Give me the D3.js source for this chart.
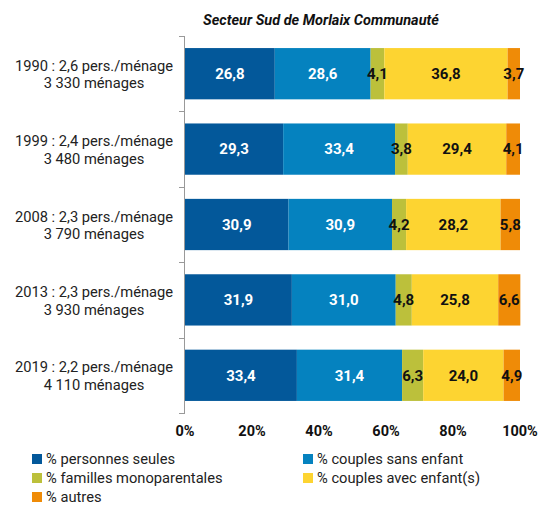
<!DOCTYPE html>
<html>
<head>
<meta charset="utf-8">
<script src="https://cdn.jsdelivr.net/npm/d3@7"></script>
<style>
  body { margin: 0; background: #fff; }
  svg { font-family: Roboto, sans-serif; }
</style>
</head>
<body>
<svg id="chart" width="538" height="505"></svg>
<script>
const years = ["1990", "1999", "2008", "2013", "2019"];
const persParMenage = ["2,6", "2,4", "2,3", "2,3", "2,2"];
const menages = ["3 330", "3 480", "3 790", "3 930", "4 110"];

const seriesNames = ["% personnes seules", "% couples sans enfant", "% familles monoparentales",
  "% couples avec enfant(s)", "% autres"];
const personnesSeules = [26.8, 29.3, 30.9, 31.9, 33.4];
const couplesSansEnfant = [28.6, 33.4, 30.9, 31.0, 31.4];
const famillesMono = [4.1, 3.8, 4.2, 4.8, 6.3];
const couplesAvecEnfants = [36.8, 29.4, 28.2, 25.8, 24.0];
const autres = [3.7, 4.1, 5.8, 6.6, 4.9];
const xTicks = [0, 20, 40, 60, 80, 100];

const colors = ["#03589a", "#0582bf", "#bcc03b", "#fdd431", "#ef8b07"];
const labelColors = ["#fff", "#fff", "#111", "#111", "#111"];

const svg = d3.select("#chart");
const margin = {left: 185, right: 18, top: 36, bottom: 92};
const width = 538, height = 505;

const seriesValues = [personnesSeules, couplesSansEnfant, famillesMono, couplesAvecEnfants, autres];
const rows = years.map((y, i) => {
  const r = {year: y};
  seriesNames.forEach((s, j) => r[s] = seriesValues[j][i]);
  return r;
});

const stacked = d3.stack().keys(seriesNames)(rows);

const x = d3.scaleLinear()
    .domain([0, 100])
    .range([margin.left, width - margin.right]);

const y = d3.scaleBand()
    .domain(years)
    .range([margin.top, height - margin.bottom])
    .paddingInner(0.32)
    .paddingOuter(0.16);

// title
svg.append("text")
    .attr("x", 321)
    .attr("y", 25)
    .attr("text-anchor", "middle")
    .attr("font-size", 14.5)
    .attr("font-weight", "bold")
    .attr("font-style", "italic")
    .attr("fill", "#111")
    .text("Secteur Sud de Morlaix Communauté");

// bars
const layer = svg.append("g")
  .selectAll("g")
  .data(stacked)
  .join("g")
    .attr("fill", (d, i) => colors[i]);

layer.selectAll("rect")
  .data(d => d)
  .join("rect")
    .attr("x", d => x(d[0]))
    .attr("y", d => y(d.data.year))
    .attr("width", d => x(d[1]) - x(d[0]))
    .attr("height", y.bandwidth());

// value labels
svg.append("g")
  .selectAll("g")
  .data(stacked)
  .join("g")
    .attr("fill", (d, i) => labelColors[i])
  .selectAll("text")
  .data(d => d)
  .join("text")
    .attr("x", d => (x(d[0]) + x(d[1])) / 2)
    .attr("y", d => y(d.data.year) + y.bandwidth() / 2)
    .attr("dy", "0.35em")
    .attr("text-anchor", "middle")
    .attr("font-size", 15)
    .attr("font-weight", "bold")
    .text(d => d3.format(".1f")(d[1] - d[0]).replace(".", ","));

// y axis line + ticks between bands
const axisG = svg.append("g").attr("stroke", "#999").attr("stroke-width", 1);
axisG.append("line")
    .attr("x1", x(0) - 0.5).attr("x2", x(0) - 0.5)
    .attr("y1", margin.top).attr("y2", height - margin.bottom);
const step = y.step();
d3.range(years.length + 1).forEach(i => {
  const yy = Math.round(margin.top + i * step) + 0.5;
  axisG.append("line")
      .attr("x1", x(0) - 6).attr("x2", x(0))
      .attr("y1", yy).attr("y2", yy);
});

// y labels
const yl = svg.append("g")
  .selectAll("text")
  .data(years)
  .join("text")
    .attr("x", 94)
    .attr("y", d => y(d) + y.bandwidth() / 2)
    .attr("text-anchor", "middle")
    .attr("font-size", 14.7)
    .attr("fill", "#222");
yl.append("tspan")
    .attr("x", 94).attr("dy", "-0.2em")
    .text((d, i) => `${d} : ${persParMenage[i]} pers./ménage`);
yl.append("tspan")
    .attr("x", 94).attr("dy", "1.2em")
    .text((d, i) => `${menages[i]} ménages`);

// x axis labels
svg.append("g")
  .selectAll("text")
  .data(xTicks)
  .join("text")
    .attr("x", d => x(d))
    .attr("y", 436)
    .attr("text-anchor", "middle")
    .attr("font-size", 14.5)
    .attr("font-weight", "bold")
    .attr("fill", "#111")
    .text(d => d + "%");

// legend
const legendPos = [[32, 459], [303, 459], [32, 478], [303, 478], [32, 497]];
const lg = svg.append("g")
  .selectAll("g")
  .data(seriesNames)
  .join("g")
    .attr("transform", (d, i) => `translate(${legendPos[i][0]},${legendPos[i][1]})`);
lg.append("rect")
    .attr("x", 0).attr("y", -5)
    .attr("width", 10).attr("height", 10)
    .attr("fill", (d, i) => colors[i]);
lg.append("text")
    .attr("x", 14)
    .attr("dy", "0.35em")
    .attr("font-size", 14.7)
    .attr("fill", "#222")
    .text(d => d);
</script>
</body>
</html>
